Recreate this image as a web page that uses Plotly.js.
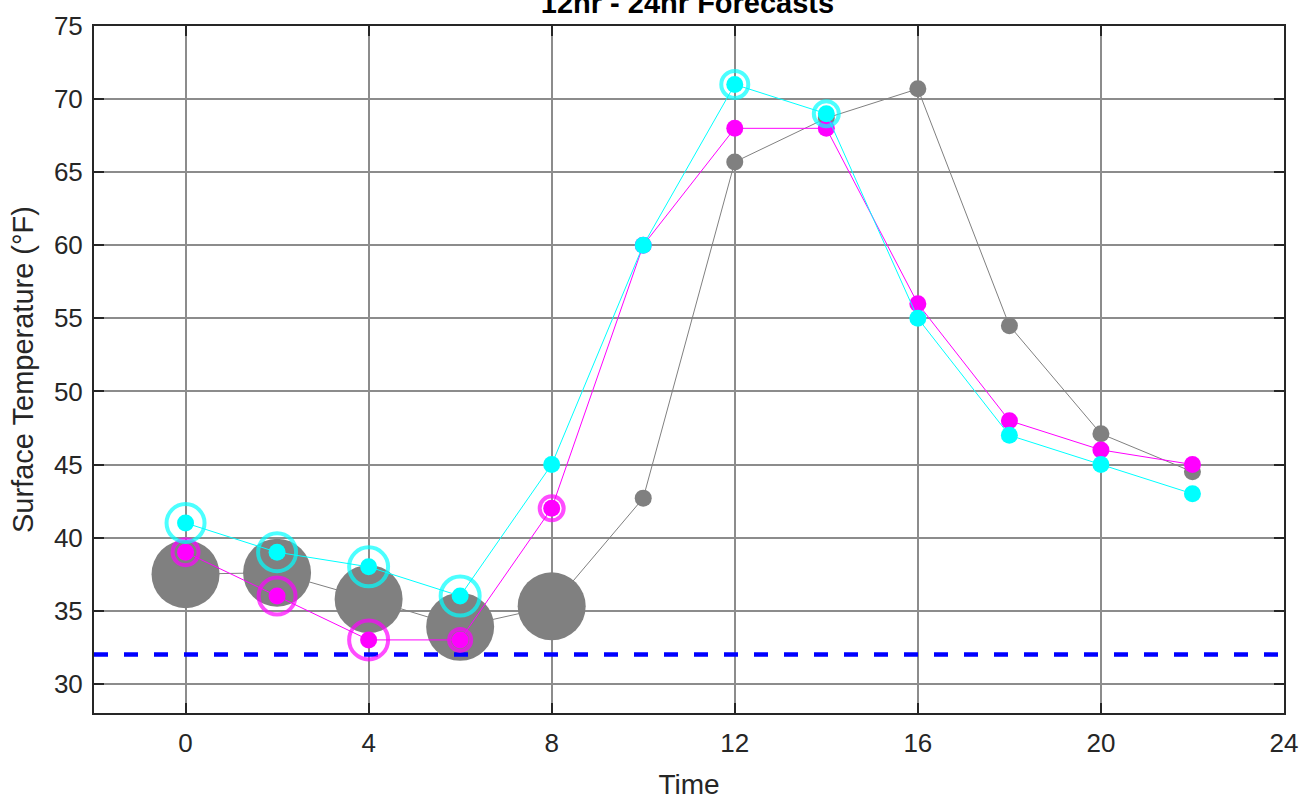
<!DOCTYPE html>
<html>
<head>
<meta charset="utf-8">
<script src="https://cdn.plot.ly/plotly-3.0.1.min.js"></script>
<style>html,body{margin:0;padding:0;background:#fff}#chart{width:1307px;height:803px}</style>
</head>
<body>
<div id="chart"></div>
<script>
// Data
const hours = [0, 2, 4, 6, 8, 10, 12, 14, 16, 18, 20, 22];
const observed = [37.5, 37.6, 35.8, 33.9, 35.3, 42.7, 65.7, 68.7, 70.7, 54.5, 47.1, 44.5];
const forecastA = [39, 36, 33, 33, 42, 60, 68, 68, 56, 48, 46, 45];
const forecastB = [41, 39, 38, 36, 45, 60, 71, 69, 55, 47, 45, 43];
const bigHours = [0, 2, 4, 6, 8];
const bigObserved = [37.5, 37.6, 35.8, 33.9, 35.3];
const ringAHours = [0, 2, 4, 6, 8];
const ringAValues = [39, 36, 33, 33, 42];
const ringASizes = [26, 37, 39, 22, 24];
const ringBHours = [0, 2, 4, 6, 12, 14];
const ringBValues = [41, 39, 38, 36, 71, 69];
const ringBSizes = [38, 38, 39, 39, 27, 25];
const freezeLevel = 32;
const xTicks = [0, 4, 8, 12, 16, 20, 24];
const yTicks = [30, 35, 40, 45, 50, 55, 60, 65, 70, 75];

const GRAY = '#808080', MAG = '#ff00ff', CYAN = '#00ffff';
const FONT = 'Liberation Sans, Arial, Helvetica, sans-serif';

const traces = [
  {x: bigHours, y: bigObserved, mode: 'markers', marker: {color: GRAY, size: 68, line: {width: 0}}, hoverinfo: 'skip'},
  {x: hours, y: observed, mode: 'lines+markers', line: {color: GRAY, width: 1}, marker: {color: GRAY, size: 17}},
  {x: [-2, 24], y: [freezeLevel, freezeLevel], mode: 'lines', line: {color: '#0000ff', width: 4.5, dash: '14px,16px'}},
  {x: ringAHours, y: ringAValues, mode: 'markers', marker: {symbol: 'circle-open', color: MAG, size: ringASizes, line: {width: 4, color: MAG}}},
  {x: hours, y: forecastA, mode: 'lines+markers', line: {color: MAG, width: 1}, marker: {color: MAG, size: 17}},
  {x: ringBHours, y: ringBValues, mode: 'markers', marker: {symbol: 'circle-open', color: CYAN, size: ringBSizes, line: {width: 4, color: CYAN}}},
  {x: hours, y: forecastB, mode: 'lines+markers', line: {color: CYAN, width: 1}, marker: {color: CYAN, size: 17}}
];

const axisCommon = {
  showgrid: true, gridcolor: '#8c8c8c', gridwidth: 2,
  showline: true, linecolor: '#262626', linewidth: 2, mirror: 'ticks',
  ticks: 'inside', ticklen: 10, tickwidth: 2, tickcolor: '#262626',
  zeroline: false,
  tickfont: {family: FONT, size: 26, color: '#262626'}
};

const layout = {
  width: 1307, height: 803,
  margin: {l: 94, r: 23, t: 26, b: 90},
  paper_bgcolor: '#fff', plot_bgcolor: '#fff',
  showlegend: false,
  title: {text: '<b>12hr - 24hr Forecasts</b>', x: 0.526, xanchor: 'center', y: 0.9963, yref: 'container', yanchor: 'middle',
    font: {family: FONT, size: 29, color: '#000'}},
  xaxis: Object.assign({}, axisCommon, {
    range: [-2, 24], tickvals: xTicks, ticktext: xTicks.map(String), ticklabelstandoff: 6,
    title: {text: 'Time', standoff: 17, font: {family: FONT, size: 28, color: '#262626'}}
  }),
  yaxis: Object.assign({}, axisCommon, {
    range: [28, 75], tickvals: yTicks, ticktext: yTicks.map(String), ticklabelstandoff: 4,
    title: {text: 'Surface Temperature (°F)', standoff: 12, font: {family: FONT, size: 29, color: '#262626'}}
  })
};

Plotly.newPlot('chart', traces, layout, {displayModeBar: false, staticPlot: true});
</script>
</body>
</html>
